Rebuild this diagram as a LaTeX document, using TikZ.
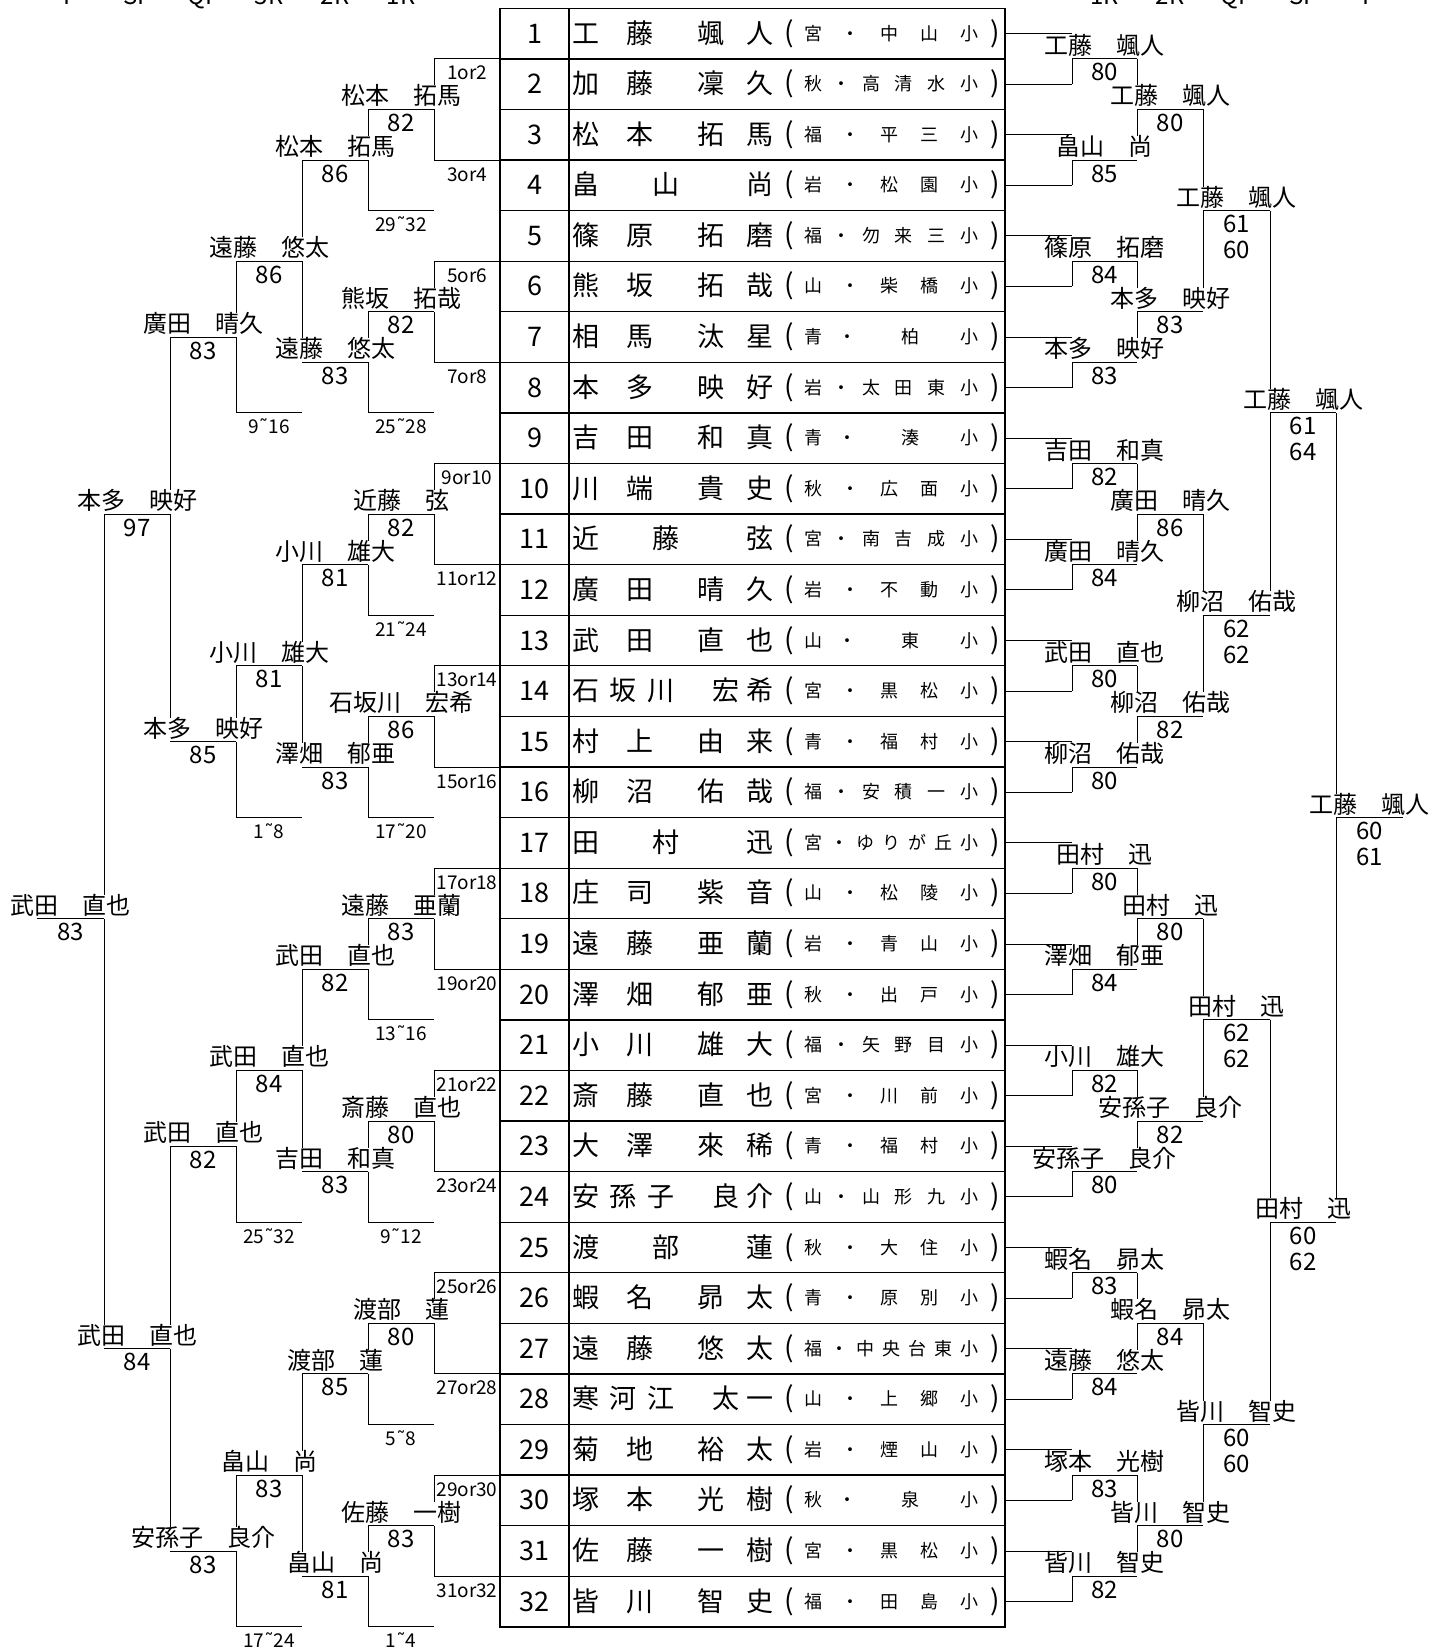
\documentclass[tikz,border=0pt]{standalone}
\usepackage{fontspec}
\setmainfont{Noto Sans CJK JP}
\newfontfamily\dv{DejaVu Sans}
\pgfmathdeclarefunction{yb}{1}{\pgfmathparse{8.3+#1*50.58}}
\pgfmathdeclarefunction{yc}{1}{\pgfmathparse{8.3+(#1-0.5)*50.58}}
\tikzset{
 ln/.style={line width=1pt},
 tbl/.style={line width=1.3pt},
 lbl/.style={font=\fontsize{24}{24}\selectfont, fill=white, inner xsep=0.5pt, inner ysep=0pt, anchor=base, text height=19.5pt, text depth=4.5pt},
 scr/.style={font=\fontsize{24}{24}\selectfont, inner sep=0pt, anchor=base},
 ph/.style={font=\fontsize{19}{19}\selectfont, inner sep=0pt, anchor=base},
 hdr/.style={font=\fontsize{24}{24}\selectfont, inner sep=0pt, anchor=base},
 tn/.style={font=\fontsize{27}{27}\selectfont, inner sep=0pt, anchor=base},
 tp/.style={font=\fontsize{28}{28}\selectfont, inner sep=0pt, anchor=base},
 tsc/.style={font=\fontsize{18}{18}\selectfont, inner sep=0pt, anchor=base},
}
\def\PA{{586,640,711,760}}
\def\PB{{586,666,760}}
\def\PC{{586,623,661,726,760}}
\def\SD{{813,847,910,969}}
\def\SE{{813,850,889,929,969}}
\def\SF{{813,841,871,903,936,969}}
\def\SG{{813,839,865,891,917,943,969}}
\newcommand\tnm[3]{\foreach \ch [count=\k from 0] in {#3} {\pgfmathsetmacro\xx{#2[\k]}\node[tn] (t#1-\k) at (\xx,{yc(#1)+9.5}) {\ch};}}
\newcommand\tsch[3]{\foreach \ch [count=\k from 0] in {#3} {\pgfmathsetmacro\xx{#2[\k]}\node[tsc] (s#1-\k) at (\xx,{yc(#1)+6.5}) {\ch};}}
\begin{document}
\begin{tikzpicture}[x=1pt,y=-1pt]
\useasboundingbox (0,0) rectangle (1433,1651);
\fill[white] (0,0) rectangle (1433,1651);
% headers
\foreach \t/\x [count=\k] in {F/70.5,SF/137,QF/203,3R/269,2R/335,1R/401,1R/1104.5,2R/1170,QF/1236.5,SF/1303,F/1369.5}
  \node[hdr] (hd\k) at (\x,4.5) {\t};
% table
\draw[tbl] (500,{yb(0)}) rectangle (1005,{yb(32)});
\draw[tbl] (569,{yb(0)}) -- (569,{yb(32)});
\foreach \k in {1,...,31} \draw[tbl] (500,{yb(\k)}) -- (1005,{yb(\k)});
\foreach \i in {1,...,32} {
  \node[tn] (n\i) at (534.5,{yc(\i)+9.5}) {\i};
  \node[tp] (po\i) at (789,{yc(\i)+8.5}) {(};
  \node[tp] (pc\i) at (995,{yc(\i)+8.5}) {)};
}
\tnm{1}{\PA}{工,藤,颯,人}\tsch{1}{\SE}{宮,・,中,山,小}
\tnm{2}{\PA}{加,藤,凜,久}\tsch{2}{\SF}{秋,・,高,清,水,小}
\tnm{3}{\PA}{松,本,拓,馬}\tsch{3}{\SE}{福,・,平,三,小}
\tnm{4}{\PB}{畠,山,尚}\tsch{4}{\SE}{岩,・,松,園,小}
\tnm{5}{\PA}{篠,原,拓,磨}\tsch{5}{\SF}{福,・,勿,来,三,小}
\tnm{6}{\PA}{熊,坂,拓,哉}\tsch{6}{\SE}{山,・,柴,橋,小}
\tnm{7}{\PA}{相,馬,汰,星}\tsch{7}{\SD}{青,・,柏,小}
\tnm{8}{\PA}{本,多,映,好}\tsch{8}{\SF}{岩,・,太,田,東,小}
\tnm{9}{\PA}{吉,田,和,真}\tsch{9}{\SD}{青,・,湊,小}
\tnm{10}{\PA}{川,端,貴,史}\tsch{10}{\SE}{秋,・,広,面,小}
\tnm{11}{\PB}{近,藤,弦}\tsch{11}{\SF}{宮,・,南,吉,成,小}
\tnm{12}{\PA}{廣,田,晴,久}\tsch{12}{\SE}{岩,・,不,動,小}
\tnm{13}{\PA}{武,田,直,也}\tsch{13}{\SD}{山,・,東,小}
\tnm{14}{\PC}{石,坂,川,宏,希}\tsch{14}{\SE}{宮,・,黒,松,小}
\tnm{15}{\PA}{村,上,由,来}\tsch{15}{\SE}{青,・,福,村,小}
\tnm{16}{\PA}{柳,沼,佑,哉}\tsch{16}{\SF}{福,・,安,積,一,小}
\tnm{17}{\PB}{田,村,迅}\tsch{17}{\SG}{宮,・,ゆ,り,が,丘,小}
\tnm{18}{\PA}{庄,司,紫,音}\tsch{18}{\SE}{山,・,松,陵,小}
\tnm{19}{\PA}{遠,藤,亜,蘭}\tsch{19}{\SE}{岩,・,青,山,小}
\tnm{20}{\PA}{澤,畑,郁,亜}\tsch{20}{\SE}{秋,・,出,戸,小}
\tnm{21}{\PA}{小,川,雄,大}\tsch{21}{\SF}{福,・,矢,野,目,小}
\tnm{22}{\PA}{斎,藤,直,也}\tsch{22}{\SE}{宮,・,川,前,小}
\tnm{23}{\PA}{大,澤,來,稀}\tsch{23}{\SE}{青,・,福,村,小}
\tnm{24}{\PC}{安,孫,子,良,介}\tsch{24}{\SF}{山,・,山,形,九,小}
\tnm{25}{\PB}{渡,部,蓮}\tsch{25}{\SE}{秋,・,大,住,小}
\tnm{26}{\PA}{蝦,名,昴,太}\tsch{26}{\SE}{青,・,原,別,小}
\tnm{27}{\PA}{遠,藤,悠,太}\tsch{27}{\SG}{福,・,中,央,台,東,小}
\tnm{28}{\PC}{寒,河,江,太,一}\tsch{28}{\SE}{山,・,上,郷,小}
\tnm{29}{\PA}{菊,地,裕,太}\tsch{29}{\SE}{岩,・,煙,山,小}
\tnm{30}{\PA}{塚,本,光,樹}\tsch{30}{\SD}{秋,・,泉,小}
\tnm{31}{\PA}{佐,藤,一,樹}\tsch{31}{\SE}{宮,・,黒,松,小}
\tnm{32}{\PA}{皆,川,智,史}\tsch{32}{\SE}{福,・,田,島,小}
% ---------- vertical lines ----------
\foreach \m in {1,...,16} \draw[ln] (1072,{yb(2*\m-1)}) -- (1072,{yc(2*\m)});
\foreach \k in {0,...,7} \draw[ln] (1137,{yb(4*\k+1)}) -- (1137,{yb(4*\k+3)});
\foreach \k in {0,...,3} \draw[ln] (1203,{yb(8*\k+2)}) -- (1203,{yb(8*\k+6)});
\foreach \k in {0,1} \draw[ln] (1270,{yb(16*\k+4)}) -- (1270,{yb(16*\k+12)});
\draw[ln] (1336,{yb(8)}) -- (1336,{yb(24)});
\foreach \k in {0,...,7} {
  \draw[ln] (434,{yb(4*\k+1)}) -- (434,{yb(4*\k+3)});
  \draw[ln] (368,{yb(4*\k+2)}) -- (368,{yb(4*\k+4)});
}
\foreach \j in {0,...,3} {
  \draw[ln] (302,{yb(8*\j+3)}) -- (302,{yb(8*\j+7)});
  \draw[ln] (236,{yb(8*\j+5)}) -- (236,{yb(8*\j+8)});
}
\draw[ln] (170,{yc(7)}) -- (170,{yc(15)});
\draw[ln] (170,{yc(23)}) -- (170,{yc(31)});
\draw[ln] (104,{yb(10)}) -- (104,{yc(27)});
% ---------- labels (right) ----------
\foreach \pn/\ps [count=\m] in {工藤　颯人/80,畠山　尚/85,篠原　拓磨/84,本多　映好/83,吉田　和真/82,廣田　晴久/84,武田　直也/80,柳沼　佑哉/80,田村　迅/80,澤畑　郁亜/84,小川　雄大/82,安孫子　良介/80,蝦名　昴太/83,遠藤　悠太/84,塚本　光樹/83,皆川　智史/82}{
  \node[lbl] (ra\m) at (1104.5,{yb(2*\m-1)-4.5}) {\pn};
  \node[scr] (ras\m) at (1104.5,{yb(2*\m-1)+22}) {\ps};}
\foreach \pn/\ps [count=\m] in {工藤　颯人/80,本多　映好/83,廣田　晴久/86,柳沼　佑哉/82,田村　迅/80,安孫子　良介/82,蝦名　昴太/84,皆川　智史/80}{
  \node[lbl] (rb\m) at (1170,{yb(4*\m-2)-4.5}) {\pn};
  \node[scr] (rbs\m) at (1170,{yb(4*\m-2)+22}) {\ps};}
\foreach \pn/\pa/\pb [count=\m] in {工藤　颯人/61/60,柳沼　佑哉/62/62,田村　迅/62/62,皆川　智史/60/60}{
  \node[lbl] (rc\m) at (1236.5,{yb(8*\m-4)-4.5}) {\pn};
  \node[scr] (rcs\m) at (1236.5,{yb(8*\m-4)+22}) {\pa};
  \node[scr] (rct\m) at (1236.5,{yb(8*\m-4)+48}) {\pb};}
\foreach \pn/\pa/\pb/\r [count=\m] in {工藤　颯人/61/64/8,田村　迅/60/62/24,工藤　颯人/60/61/16}{
  \pgfmathsetmacro\xx{\m<3 ? 1303 : 1369.5}
  \node[lbl] (rd\m) at (\xx,{yb(\r)-4.5}) {\pn};
  \node[scr] (rds\m) at (\xx,{yb(\r)+22}) {\pa};
  \node[scr] (rdt\m) at (\xx,{yb(\r)+48}) {\pb};}
% ---------- labels (left) ----------
\foreach \pn/\ps [count=\m] in {松本　拓馬/82,熊坂　拓哉/82,近藤　弦/82,石坂川　宏希/86,遠藤　亜蘭/83,斎藤　直也/80,渡部　蓮/80,佐藤　一樹/83}{
  \node[lbl] (la\m) at (401,{yb(4*\m-2)-4.5}) {\pn};
  \node[scr] (las\m) at (401,{yb(4*\m-2)+22}) {\ps};}
\foreach \pn/\ps [count=\m] in {松本　拓馬/86,遠藤　悠太/83,小川　雄大/81,澤畑　郁亜/83,武田　直也/82,吉田　和真/83,渡部　蓮/85,畠山　尚/81}{
  \node[lbl] (lb\m) at (335,{yb(4*\m-1)-4.5}) {\pn};
  \node[scr] (lbs\m) at (335,{yb(4*\m-1)+22}) {\ps};}
\foreach \pn/\ps [count=\m] in {遠藤　悠太/86,小川　雄大/81,武田　直也/84,畠山　尚/83}{
  \node[lbl] (lc\m) at (269,{yb(8*\m-3)-4.5}) {\pn};
  \node[scr] (lcs\m) at (269,{yb(8*\m-3)+22}) {\ps};}
\foreach \pn/\ps [count=\m] in {廣田　晴久/83,本多　映好/85,武田　直也/82,安孫子　良介/83}{
  \node[lbl] (ld\m) at (203,{yc(8*\m-1)-4.5}) {\pn};
  \node[scr] (lds\m) at (203,{yc(8*\m-1)+22}) {\ps};}
\node[lbl] (le1) at (137,{yb(10)-4.5}) {本多　映好};
\node[scr] (les1) at (137,{yb(10)+22}) {97};
\node[lbl] (le2) at (137,{yc(27)-4.5}) {武田　直也};
\node[scr] (les2) at (137,{yc(27)+22}) {84};
\node[lbl] (lf) at (70.5,{yb(18)-4.5}) {武田　直也};
\node[scr] (lfs) at (70.5,{yb(18)+22}) {83};
% placeholders
\foreach \m in {1,...,16} {
  \pgfmathtruncatemacro\pa{2*\m-1}\pgfmathtruncatemacro\pb{2*\m}
  \node[ph] (pa\m) at (467,{yb(2*\m-1)+21}) {\pa or\pb};
  \draw[ln] (434,{yb(2*\m-1)}) -- (500,{yb(2*\m-1)});}
\foreach \pa/\pb [count=\m] in {29/32,25/28,21/24,17/20,13/16,9/12,5/8,1/4}{
  \node[ph] (pb\m) at (401,{yb(4*\m)+21}) {\pa{\dv ˜}\pb};
  \draw[ln] (368,{yb(4*\m)}) -- (434,{yb(4*\m)});}
\foreach \pa/\pb [count=\m] in {9/16,1/8,25/32,17/24}{
  \node[ph] (pc\m) at (269,{yb(8*\m)+21}) {\pa{\dv ˜}\pb};
  \draw[ln] (236,{yb(8*\m)}) -- (302,{yb(8*\m)});}
% ---------- horizontal lines ----------
\foreach \i in {1,...,32} \draw[ln] (1005,{yc(\i)}) -- (1072,{yc(\i)});
\foreach \m in {1,...,16} \draw[ln] (1072,{yb(2*\m-1)}) -- (1137,{yb(2*\m-1)});
\foreach \k in {0,...,7} \draw[ln] (1137,{yb(4*\k+2)}) -- (1203,{yb(4*\k+2)});
\foreach \k in {0,...,3} \draw[ln] (1203,{yb(8*\k+4)}) -- (1270,{yb(8*\k+4)});
\draw[ln] (1270,{yb(8)}) -- (1336,{yb(8)});
\draw[ln] (1270,{yb(24)}) -- (1336,{yb(24)});
\draw[ln] (1336,{yb(16)}) -- (1403,{yb(16)});
\foreach \k in {0,...,7} {
  \draw[ln] (368,{yb(4*\k+2)}) -- (434,{yb(4*\k+2)});
  \draw[ln] (302,{yb(4*\k+3)}) -- (368,{yb(4*\k+3)});}
\foreach \j in {0,...,3} {
  \draw[ln] (236,{yb(8*\j+5)}) -- (302,{yb(8*\j+5)});
  \draw[ln] (170,{yc(8*\j+7)}) -- (236,{yc(8*\j+7)});}
\draw[ln] (104,{yb(10)}) -- (170,{yb(10)});
\draw[ln] (104,{yc(27)}) -- (170,{yc(27)});
\draw[ln] (37,{yb(18)}) -- (104,{yb(18)});
\end{tikzpicture}
\end{document}
